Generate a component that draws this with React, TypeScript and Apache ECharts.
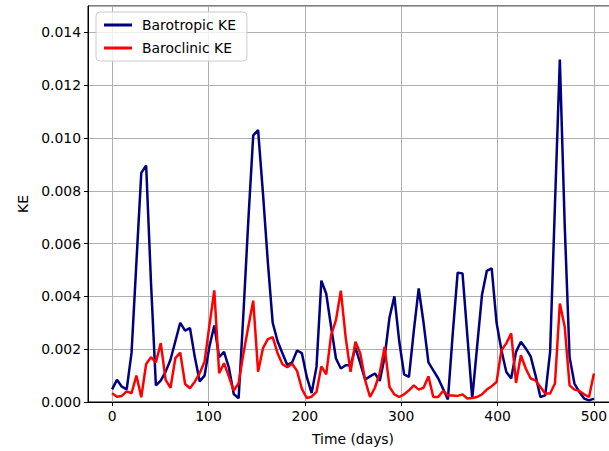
import React, { useEffect, useRef } from "react";
import * as echarts from "echarts";

const days = [
  0, 5.05, 10.1, 15.15, 20.2, 25.25, 30.3, 35.35, 40.4, 45.45,
  50.51, 55.56, 60.61, 65.66, 70.71, 75.76, 80.81, 85.86, 90.91, 95.96,
  101.01, 106.06, 111.11, 116.16, 121.21, 126.26, 131.31, 136.36, 141.41, 146.46,
  151.52, 156.57, 161.62, 166.67, 171.72, 176.77, 181.82, 186.87, 191.92, 196.97,
  202.02, 207.07, 212.12, 217.17, 222.22, 227.27, 232.32, 237.37, 242.42, 247.47,
  252.53, 257.58, 262.63, 267.68, 272.73, 277.78, 282.83, 287.88, 292.93, 297.98,
  303.03, 308.08, 313.13, 318.18, 323.23, 328.28, 333.33, 338.38, 343.43, 348.48,
  353.54, 358.59, 363.64, 368.69, 373.74, 378.79, 383.84, 388.89, 393.94, 398.99,
  404.04, 409.09, 414.14, 419.19, 424.24, 429.29, 434.34, 439.39, 444.44, 449.49,
  454.55, 459.6, 464.65, 469.7, 474.75, 479.8, 484.85, 489.9, 494.95, 500,
];

const barotropicKE = [
  0.00048, 0.00084, 0.00058, 0.00048, 0.00187, 0.0053, 0.00868, 0.00896, 0.0045, 0.00063,
  0.00081, 0.00115, 0.0016, 0.0023, 0.003, 0.0027, 0.0028, 0.0017, 0.00078, 0.001,
  0.0021, 0.0029, 0.0017, 0.0019, 0.0013, 0.0003, 0.00014, 0.0034, 0.0069, 0.0101,
  0.0103, 0.0079, 0.0053, 0.003, 0.0023, 0.00185, 0.0014, 0.0015, 0.00195, 0.00185,
  0.00095, 0.00034, 0.00133, 0.0046, 0.0041, 0.00285, 0.00165, 0.00127, 0.00139, 0.00139,
  0.00206, 0.00146, 0.00085, 0.00097, 0.00108, 0.0008, 0.0017, 0.0032, 0.004, 0.0023,
  0.00105, 0.00095, 0.0027, 0.0043, 0.003, 0.0015, 0.0012, 0.0009, 0.0005, 0.0001,
  0.0026, 0.0049, 0.00487, 0.0025, 0.00013, 0.0021, 0.00405, 0.00497, 0.00506, 0.003,
  0.00196, 0.00114, 0.00089, 0.0019, 0.00228, 0.00203, 0.00173, 0.00101, 0.00019, 0.00025,
  0.0019, 0.0075, 0.01297, 0.0067, 0.0017, 0.0007, 0.00038, 0.00013, 0.00006, 0.00013,
];

const baroclinicKE = [
  0.00033, 0.0002, 0.00023, 0.0004, 0.00033, 0.001, 0.00018, 0.00144, 0.0017, 0.0015,
  0.00223, 0.00084, 0.00054, 0.00166, 0.00187, 0.00068, 0.00052, 0.00077, 0.00109, 0.00153,
  0.0029, 0.00423, 0.00109, 0.00147, 0.00096, 0.00043, 0.00071, 0.00185, 0.00286, 0.00384,
  0.00115, 0.00204, 0.00238, 0.00246, 0.00185, 0.00143, 0.00132, 0.00145, 0.00118, 0.0005,
  0.00015, 0.0002, 0.00038, 0.00135, 0.00105, 0.00253, 0.0031, 0.00422, 0.00244, 0.00114,
  0.00228, 0.00184, 0.00082, 0.00019, 0.00054, 0.0011, 0.00209, 0.00057, 0.00029, 0.00019,
  0.00029, 0.00044, 0.00063, 0.00047, 0.00054, 0.00097, 0.00019, 0.00019, 0.00042, 0.00025,
  0.00025, 0.00023, 0.00029, 0.00013, 0.00015, 0.00019, 0.00029, 0.00047, 0.0006, 0.00076,
  0.00196, 0.00222, 0.0026, 0.00072, 0.00177, 0.00127, 0.00089, 0.00082, 0.00057, 0.00032,
  0.00032, 0.0007, 0.00373, 0.00285, 0.00063, 0.00047, 0.00042, 0.00029, 0.00019, 0.00108,
];

const seriesNames = ["Barotropic KE", "Baroclinic KE"];
const seriesColors = ["#000080", "#ff0000"];

const FONT = "DejaVu Sans";

export default function App() {
  const ref = useRef<HTMLDivElement>(null);

  useEffect(() => {
    if (!ref.current) return;
    const chart = echarts.init(ref.current, null, { renderer: "svg" });
    const toPairs = (ys: number[]) => ys.map((y, i) => [days[i], y]);
    chart.setOption({
      animation: false,
      backgroundColor: "#ffffff",
      textStyle: { fontFamily: FONT },
      grid: {
        left: 88,
        top: 6,
        right: 2,
        bottom: 49,
        show: true,
        borderColor: "#000000",
        borderWidth: 1,
        backgroundColor: "transparent",
      },
      legend: {
        orient: "vertical",
        left: 96,
        top: 12,
        data: seriesNames.map((n) => ({ name: n, icon: "rect" })),
        itemWidth: 28,
        itemHeight: 3,
        itemGap: 9,
        padding: [6, 11, 6, 8],
        backgroundColor: "rgba(255,255,255,0.8)",
        borderColor: "#cccccc",
        borderWidth: 1,
        borderRadius: 4,
        textStyle: {
          fontFamily: FONT,
          fontSize: 13.9,
          color: "#000000",
          padding: [0, 0, 0, 5],
        },
      },
      xAxis: {
        type: "value",
        min: -25,
        max: 525,
        splitNumber: 5,
        name: "Time (days)",
        nameLocation: "middle",
        nameGap: 30,
        nameTextStyle: { fontFamily: FONT, fontSize: 13.9, color: "#000000" },
        axisLine: { show: true, onZero: false, lineStyle: { color: "#000000", width: 1 } },
        axisTick: { show: true, length: 4, lineStyle: { color: "#000000", width: 1 } },
        axisLabel: {
          showMinLabel: false,
          showMaxLabel: false,
          margin: 7,
          fontFamily: FONT,
          fontSize: 13.9,
          color: "#000000",
        },
        splitLine: { show: true, lineStyle: { color: "#b0b0b0", width: 1 } },
      },
      yAxis: {
        type: "value",
        min: 0,
        max: 0.015,
        interval: 0.002,
        name: "KE",
        nameLocation: "middle",
        nameRotate: 90,
        nameGap: 58,
        nameTextStyle: { fontFamily: FONT, fontSize: 13.9, color: "#000000" },
        axisLine: { show: true, onZero: false, lineStyle: { color: "#000000", width: 1 } },
        axisTick: { show: true, length: 4, lineStyle: { color: "#000000", width: 1 } },
        axisLabel: {
          showMaxLabel: false,
          margin: 7,
          fontFamily: FONT,
          fontSize: 13.9,
          color: "#000000",
          formatter: (v: number) => (v > 0.0145 ? "" : v.toFixed(3)),
        },
        splitLine: { show: true, lineStyle: { color: "#b0b0b0", width: 1 } },
      },
      series: [
        {
          name: seriesNames[0],
          type: "line",
          data: toPairs(barotropicKE),
          showSymbol: false,
          symbol: "none",
          color: seriesColors[0],
          lineStyle: { color: seriesColors[0], width: 2.5 },
          z: 3,
        },
        {
          name: seriesNames[1],
          type: "line",
          data: toPairs(baroclinicKE),
          showSymbol: false,
          symbol: "none",
          color: seriesColors[1],
          lineStyle: { color: seriesColors[1], width: 2.5 },
          z: 4,
        },
      ],
    });
    return () => chart.dispose();
  }, []);

  return (
    <div
      style={{
        position: "fixed",
        left: 0,
        top: 0,
        width: 609,
        height: 451,
        overflow: "hidden",
        background: "#ffffff",
      }}
    >
      <div ref={ref} style={{ width: 620, height: 451 }} />
    </div>
  );
}
